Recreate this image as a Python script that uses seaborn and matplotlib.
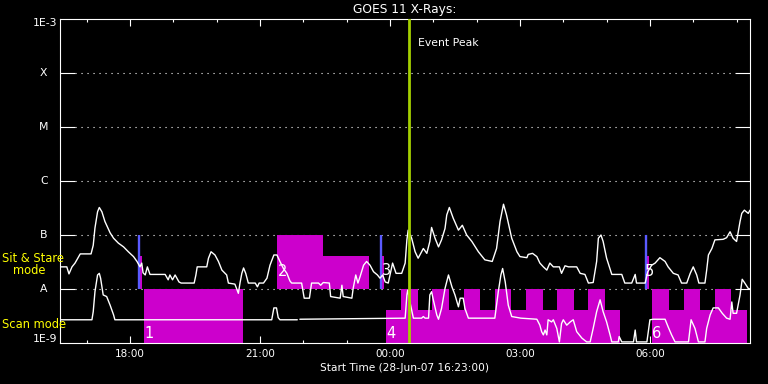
import numpy as np
import pandas as pd
import matplotlib
matplotlib.use("Agg")
import matplotlib.pyplot as plt
from matplotlib.ticker import FixedLocator, NullLocator
import seaborn as sns

# ---------------- data ----------------
# time in decimal hours since 28-Jun-07 00:00 UT (values > 24 are 29-Jun)
long_hours = [16.39, 16.54, 16.59, 16.66, 16.73, 16.85, 17.10, 17.15, 17.19, 17.25,
              17.29, 17.35, 17.42, 17.54, 17.62, 17.73, 17.85, 17.96, 18.08, 18.16,
              18.23, 18.27, 18.30, 18.35, 18.40, 18.46, 18.81, 18.88, 18.92, 18.98,
              19.04, 19.13, 19.18, 19.48, 19.52, 19.55, 19.77, 19.81, 19.87, 19.96,
              20.04, 20.12, 20.23, 20.27, 20.42, 20.50, 20.54, 20.58, 20.62, 20.67,
              20.73, 20.89, 20.94, 20.98, 21.08, 21.16, 21.23, 21.32, 21.39, 21.46,
              21.54, 21.62, 21.69, 21.73, 21.96, 22.02, 22.14, 22.19, 22.35, 22.40,
              22.46, 22.60, 22.63, 22.85, 22.89, 22.92, 23.12, 23.15, 23.21, 23.26,
              23.31, 23.39, 23.46, 23.54, 23.62, 23.71, 23.77, 23.83, 23.89, 23.96,
              24.00, 24.06, 24.14, 24.27, 24.35, 24.39, 24.42, 24.50, 24.58, 24.65,
              24.77, 24.85, 24.92, 24.96, 25.04, 25.12, 25.19, 25.27, 25.31, 25.37,
              25.46, 25.58, 25.67, 25.77, 25.89, 26.04, 26.19, 26.36, 26.46, 26.54,
              26.62, 26.69, 26.81, 26.93, 27.00, 27.16, 27.19, 27.29, 27.39, 27.46,
              27.54, 27.62, 27.69, 27.77, 27.91, 27.96, 28.04, 28.12, 28.31, 28.39,
              28.50, 28.58, 28.69, 28.77, 28.81, 28.87, 28.92, 29.00, 29.12, 29.35,
              29.42, 29.58, 29.66, 29.69, 29.89, 29.95, 30.04, 30.12, 30.23, 30.35,
              30.42, 30.54, 30.65, 30.73, 30.85, 30.93, 31.00, 31.08, 31.13, 31.27,
              31.31, 31.35, 31.43, 31.50, 31.69, 31.77, 31.85, 31.92, 32.00, 32.08,
              32.12, 32.18, 32.27, 32.31]
# log10 of 1-8 Angstrom flux (W m^-2)
long_log_flux = [-7.59, -7.59, -7.72, -7.59, -7.52, -7.35, -7.35, -7.19, -6.87, -6.57,
                 -6.49, -6.57, -6.75, -6.96, -7.06, -7.15, -7.22, -7.31, -7.40, -7.49,
                 -7.59, -7.52, -7.70, -7.74, -7.59, -7.73, -7.73, -7.83, -7.74, -7.83,
                 -7.74, -7.87, -7.89, -7.89, -7.74, -7.59, -7.59, -7.43, -7.31, -7.37,
                 -7.49, -7.65, -7.74, -7.89, -7.91, -8.08, -7.88, -7.71, -7.61, -7.71,
                 -7.89, -7.89, -7.96, -7.89, -7.89, -7.80, -7.56, -7.37, -7.37, -7.49,
                 -7.62, -7.71, -7.85, -7.89, -7.89, -8.17, -8.17, -7.89, -7.89, -7.93,
                 -7.88, -7.89, -8.14, -8.17, -7.93, -8.14, -8.17, -7.99, -7.74, -7.89,
                 -7.77, -7.56, -7.49, -7.56, -7.68, -7.74, -7.80, -7.74, -7.87, -7.89,
                 -7.74, -7.52, -7.71, -7.71, -7.52, -7.09, -6.91, -7.06, -7.31, -7.43,
                 -7.25, -7.34, -7.12, -6.86, -7.06, -7.22, -7.09, -6.88, -6.63, -6.49,
                 -6.69, -6.91, -6.82, -7.00, -7.12, -7.31, -7.46, -7.49, -7.25, -6.75,
                 -6.43, -6.63, -7.06, -7.31, -7.40, -7.42, -7.36, -7.34, -7.40, -7.52,
                 -7.59, -7.65, -7.52, -7.59, -7.59, -7.71, -7.57, -7.59, -7.59, -7.71,
                 -7.73, -7.89, -7.88, -7.49, -7.06, -7.00, -7.12, -7.43, -7.73, -7.73,
                 -7.89, -7.89, -7.73, -7.89, -7.89, -7.68, -7.56, -7.52, -7.42, -7.49,
                 -7.59, -7.71, -7.74, -7.89, -7.89, -7.71, -7.59, -7.74, -7.89, -7.89,
                 -7.65, -7.37, -7.25, -7.09, -7.08, -7.05, -6.94, -7.06, -7.12, -6.75,
                 -6.60, -6.54, -6.60, -6.54]

short_hours = [16.39, 17.12, 17.15, 17.19, 17.25, 17.29, 17.32, 17.38, 17.46, 17.54,
               17.62, 17.65, 21.27, 21.32, 21.38, 21.42, 21.46, 21.86, 21.92, 24.35,
               24.39, 24.41, 24.46, 24.54, 24.73, 24.77, 24.81, 24.89, 24.92, 24.96,
               25.00, 25.08, 25.12, 25.19, 25.27, 25.35, 25.43, 25.50, 25.58, 25.62,
               25.69, 25.73, 25.81, 26.42, 26.50, 26.56, 26.60, 26.66, 26.73, 26.81,
               27.02, 27.39, 27.46, 27.50, 27.54, 27.58, 27.62, 27.65, 27.73, 27.77,
               27.85, 27.91, 27.96, 28.00, 28.08, 28.16, 28.23, 28.31, 28.43, 28.54,
               28.62, 28.69, 28.77, 28.85, 28.92, 29.00, 29.08, 29.12, 29.27, 29.29,
               29.35, 29.62, 29.66, 29.69, 29.93, 30.00, 30.08, 30.35, 30.42, 30.50,
               30.58, 30.89, 30.95, 31.04, 31.12, 31.27, 31.31, 31.39, 31.46, 31.58,
               31.67, 31.77, 31.85, 31.89, 31.92, 32.00, 32.08, 32.13, 32.19, 32.27,
               32.31]
# log10 of 0.5-4 Angstrom flux (W m^-2)
short_log_flux = [-8.57, -8.57, -8.42, -8.05, -7.74, -7.71, -7.80, -8.11, -8.14, -8.30,
                  -8.48, -8.57, -8.57, -8.35, -8.35, -8.53, -8.57, -8.57, -8.56, -8.54,
                  -8.11, -8.02, -8.24, -8.54, -8.54, -8.51, -8.54, -8.54, -8.11, -8.05,
                  -8.20, -8.48, -8.56, -8.36, -7.99, -7.74, -7.96, -8.11, -8.33, -8.17,
                  -8.17, -8.36, -8.54, -8.54, -8.05, -7.74, -7.62, -7.87, -8.30, -8.51,
                  -8.54, -8.56, -8.67, -8.79, -8.85, -8.76, -8.85, -8.57, -8.61, -8.57,
                  -8.73, -8.98, -8.64, -8.57, -8.67, -8.61, -8.57, -8.79, -8.91, -8.98,
                  -8.98, -8.73, -8.42, -8.20, -8.42, -8.61, -8.85, -8.98, -8.98, -8.88,
                  -8.98, -8.98, -8.76, -8.98, -8.98, -8.57, -8.56, -8.56, -8.70, -8.85,
                  -8.98, -8.98, -8.57, -8.73, -8.98, -8.98, -8.73, -8.48, -8.35, -8.35,
                  -8.45, -8.54, -8.56, -8.24, -8.45, -8.45, -8.11, -7.82, -7.89, -7.99,
                  -8.00]
short_data_gap_after = 21.86   # missing data between 21.86 and 21.92

# scan-mode blocks (lower band, drawn from 1E-9)
scan_start = [18.32, 23.91, 24.25, 24.65, 24.97, 25.36, 25.71, 26.08, 26.42, 26.79, 27.14,
              27.53, 27.86, 28.25, 28.57, 28.96, 30.05, 30.44, 30.79, 31.16, 31.50, 31.87]
scan_end = [20.61, 24.25, 24.65, 24.97, 25.36, 25.71, 26.08, 26.42, 26.79, 27.14, 27.53,
            27.86, 28.25, 28.57, 28.96, 29.31, 30.44, 30.79, 31.16, 31.50, 31.87, 32.24]
scan_top = [1e-8, 4.1e-9, 1e-8, 4.1e-9, 1e-8, 4.1e-9, 1e-8, 4.1e-9, 1e-8, 4.1e-9, 1e-8,
            4.1e-9, 1e-8, 4.1e-9, 1e-8, 4.1e-9, 1e-8, 4.1e-9, 1e-8, 4.1e-9, 1e-8, 4.1e-9]
scan_bottom = 1e-9

# sit & stare blocks (upper band, drawn from 1E-8)
stare_start = [18.22, 21.39, 22.45, 23.81, 29.93]
stare_end = [18.28, 22.45, 23.52, 23.86, 29.98]
stare_top = [4.1e-8, 1e-7, 4.1e-8, 4.1e-8, 4.1e-8]
stare_bottom = 1e-8

# pointing markers (blue) and event peak
pointing_hours = [18.20, 23.79, 29.91]
event_peak_hour = 24.44

# block numbers
block_labels = ["1", "2", "3", "4", "5", "6"]
block_label_hours = [18.43, 21.52, 23.91, 24.03, 30.00, 30.16]
block_label_flux = [1.5e-9, 2.1e-8, 2.2e-8, 1.5e-9, 2.15e-8, 1.5e-9]

# axis labels
x_tick_hours = [18, 21, 24, 27, 30]
x_tick_labels = ["18:00", "21:00", "00:00", "03:00", "06:00"]
x_minor_hours = list(range(17, 33))
x_range = (16.383, 32.31)
goes_levels = [1e-8, 1e-7, 1e-6, 1e-5, 1e-4]
goes_classes = ["A", "B", "C", "M", "X"]

# ---------------- styling ----------------
sns.set_style("dark", {"axes.facecolor": "black", "figure.facecolor": "black"})
plt.rcParams["font.family"] = ["DejaVu Sans"]

MAGENTA = "#cc00cc"
BLUE = "#5a5aff"
GREEN = "#a3cf00"
YELLOW = "#ffff00"
W, H = 768, 384

fig = plt.figure(figsize=(7.68, 3.84), dpi=100, facecolor="black")
ax = fig.add_axes([60 / W, 41 / H, 690 / W, 324 / H])
ax.set_facecolor("black")
ax.set_yscale("log")
ax.set_ylim(1e-9, 1e-3)
ax.set_xlim(*x_range)

# dotted class lines
for lev in goes_levels:
    ax.axhline(lev, xmin=15 / 690, xmax=1 - 15 / 690, color="white", lw=0.8,
               ls=(0, (1, 4.4)), zorder=1)

# mode blocks
ax.bar(scan_start, np.array(scan_top) - scan_bottom,
       width=np.array(scan_end) - np.array(scan_start), bottom=scan_bottom,
       align="edge", color=MAGENTA, lw=0, zorder=2)
ax.bar(stare_start, np.array(stare_top) - stare_bottom,
       width=np.array(stare_end) - np.array(stare_start), bottom=stare_bottom,
       align="edge", color=MAGENTA, lw=0, zorder=2)
ax.vlines(pointing_hours, 1e-8, 1e-7, color=BLUE, lw=1.7, zorder=3)

# light curves
df_long = pd.DataFrame({"hour": long_hours, "flux": 10 ** np.array(long_log_flux),
                        "channel": "1-8 A", "segment": 0})
sh = np.array(short_hours)
df_short = pd.DataFrame({"hour": short_hours, "flux": 10 ** np.array(short_log_flux),
                         "channel": "0.5-4 A", "segment": (sh > short_data_gap_after).astype(int) + 1})
df = pd.concat([df_long, df_short], ignore_index=True)
sns.lineplot(data=df, x="hour", y="flux", hue="channel", units="segment",
             estimator=None, sort=False, palette={"1-8 A": "white", "0.5-4 A": "white"},
             legend=False, linewidth=1.0, ax=ax, zorder=4)

# event peak
ax.axvline(event_peak_hour, color=GREEN, lw=2.0, zorder=5)
ax.text(24.65, 10 ** -3.44, "Event Peak", color="white", fontsize=7.8,
        ha="left", va="center", zorder=6)

for lab, hx, fy in zip(block_labels, block_label_hours, block_label_flux):
    ax.text(hx, fy, lab, color="white", fontsize=10.5, ha="center", va="center",
            zorder=6)

# ticks
ax.xaxis.set_major_locator(FixedLocator(x_tick_hours))
ax.set_xticklabels(x_tick_labels)
ax.xaxis.set_minor_locator(FixedLocator(x_minor_hours))
ax.tick_params(axis="x", which="major", direction="in", length=4.8, width=0.8,
               top=True, bottom=True, color="white", labelcolor="white",
               labelsize=7.5, pad=4.5)
ax.tick_params(axis="x", which="minor", direction="in", length=2.4, width=0.8,
               top=True, bottom=True, color="white")
ax.yaxis.set_major_locator(FixedLocator(goes_levels))
ax.yaxis.set_minor_locator(NullLocator())
ax.tick_params(axis="y", which="major", direction="in", length=10.8, width=0.8,
               left=True, right=True, color="white", labelleft=False)
ax.set_xlabel("")
ax.set_ylabel("")
for sp in ax.spines.values():
    sp.set_color("white")
    sp.set_linewidth(0.8)
    sp.set_visible(True)
ax.grid(False)

# y labels (IDL-style)
def ftxt(x, y, s, **kw):
    fig.text(x / W, 1 - y / H, s, **kw)

ftxt(57, 23, "1E-3", color="white", fontsize=7.8, ha="right", va="center")
ftxt(57, 339.5, "1E-9", color="white", fontsize=7.8, ha="right", va="center")
for lev, cls in zip(goes_levels, goes_classes):
    ypix = 19 + (-3 - np.log10(lev)) * 54
    ftxt(43.7, ypix, cls, color="white", fontsize=7.8, ha="center", va="center")
ftxt(2, 259, "Sit & Stare", color=YELLOW, fontsize=8.3, ha="left", va="center")
ftxt(12.5, 270.5, "mode", color=YELLOW, fontsize=8.3, ha="left", va="center")
ftxt(2, 324, "Scan mode", color=YELLOW, fontsize=8.3, ha="left", va="center")

ftxt(405, 9.5, "GOES 11 X-Rays:", color="white", fontsize=8.8, ha="center", va="center")
ftxt(405, 368, "Start Time (28-Jun-07 16:23:00)", color="white", fontsize=7.6,
     ha="center", va="center")

fig.savefig("out.png", dpi=100, facecolor="black")
